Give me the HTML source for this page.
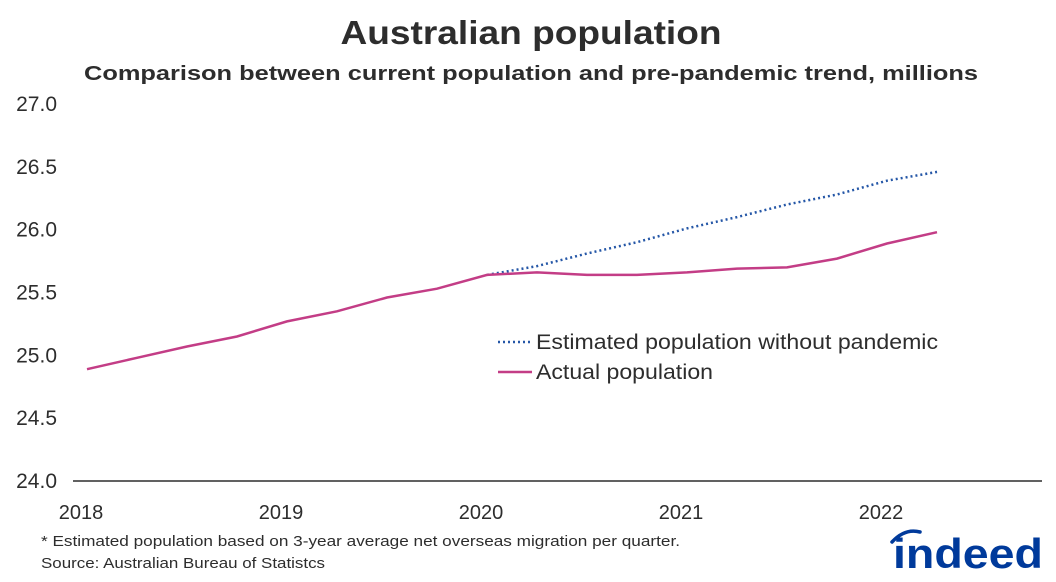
<!DOCTYPE html>
<html><head><meta charset="utf-8">
<style>
body{margin:0;background:#fff;}
svg text{font-family:"Liberation Sans",sans-serif;}
</style></head>
<body>
<svg width="1056" height="577" viewBox="0 0 1056 577" xmlns="http://www.w3.org/2000/svg">
<text x="531" y="44" text-anchor="middle" font-size="33" font-weight="bold" fill="#2d2d2d" textLength="381" lengthAdjust="spacingAndGlyphs">Australian population</text>
<text x="531" y="80" text-anchor="middle" font-size="20" font-weight="bold" fill="#2d2d2d" textLength="894" lengthAdjust="spacingAndGlyphs">Comparison between current population and pre-pandemic trend, millions</text>
<g id="yticks"></g>
<g id="xticks"></g>
<line x1="73" y1="481" x2="1042" y2="481" stroke="#2d2d2d" stroke-width="1.5"/>
<path id="est" fill="none" stroke="#2557a7" stroke-width="2.5" stroke-dasharray="2,3"/>
<path id="act" fill="none" stroke="#c33d86" stroke-width="2.5"/>
<g>
<line x1="498" y1="342" x2="532" y2="342" stroke="#2557a7" stroke-width="2.5" stroke-dasharray="2,3"/>
<text x="536" y="349" font-size="21" fill="#2d2d2d" textLength="402" lengthAdjust="spacingAndGlyphs">Estimated population without pandemic</text>
<line x1="498" y1="372" x2="532" y2="372" stroke="#c33d86" stroke-width="2.5"/>
<text x="536" y="379" font-size="21" fill="#2d2d2d" textLength="177" lengthAdjust="spacingAndGlyphs">Actual population</text>
</g>
<text x="41" y="546" font-size="15" fill="#2d2d2d" textLength="639" lengthAdjust="spacingAndGlyphs">* Estimated population based on 3-year average net overseas migration per quarter.</text>
<text x="41" y="568" font-size="15" fill="#2d2d2d" textLength="284" lengthAdjust="spacingAndGlyphs">Source: Australian Bureau of Statistcs</text>
<g>
<path d="M892 542 Q905 528 920 532" fill="none" stroke="#003a9b" stroke-width="3.5" stroke-linecap="round"/>
<text x="893" y="568" font-size="42" font-weight="bold" fill="#003a9b" textLength="150" lengthAdjust="spacingAndGlyphs">indeed</text>
</g>
</svg>
<script>
const yTicks=[24.0,24.5,25.0,25.5,26.0,26.5,27.0];
const xYears=["2018","2019","2020","2021","2022"];
const actual=[24.89,24.98,25.07,25.15,25.27,25.35,25.46,25.53,25.64,25.66,25.64,25.64,25.66,25.69,25.70,25.77,25.89,25.98];
const estimated=[null,null,null,null,null,null,null,null,25.64,25.71,25.81,25.90,26.01,26.10,26.20,26.28,26.39,26.46];
const ns="http://www.w3.org/2000/svg";
function y(v){return 481-(v-24)*(377/3);}
function x(i){return 87+50*i;}
const yg=document.getElementById('yticks');
yTicks.forEach(v=>{const t=document.createElementNS(ns,'text');
t.setAttribute('x',57);t.setAttribute('y',y(v)+7);t.setAttribute('text-anchor','end');t.setAttribute('font-size','21');t.setAttribute('fill','#2d2d2d');


t.textContent=v.toFixed(1);yg.appendChild(t);});
const xg=document.getElementById('xticks');
xYears.forEach((s,k)=>{const t=document.createElementNS(ns,'text');
t.setAttribute('x',x(k*4)-6);t.setAttribute('y',519);t.setAttribute('text-anchor','middle');t.setAttribute('font-size','20');t.setAttribute('fill','#2d2d2d');


t.textContent=s;xg.appendChild(t);});
function path(arr){let d='';arr.forEach((v,i)=>{if(v==null)return;d+=(d?'L':'M')+x(i)+' '+y(v).toFixed(1)+' ';});return d;}
document.getElementById('est').setAttribute('d',path(estimated));
document.getElementById('act').setAttribute('d',path(actual));
</script>
</body></html>
